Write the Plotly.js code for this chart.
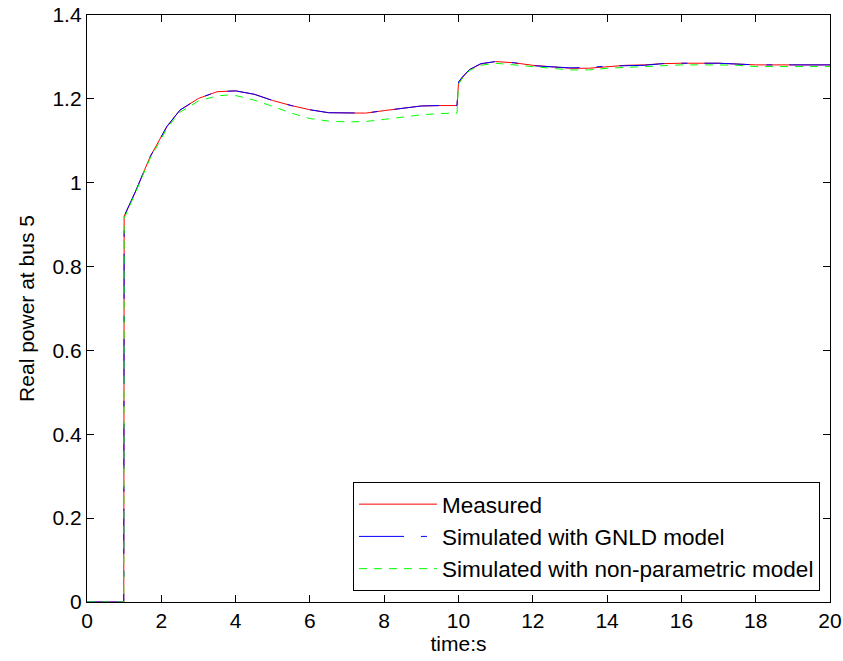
<!DOCTYPE html>
<html>
<head>
<meta charset="utf-8">
<script src="https://cdn.plot.ly/plotly-3.0.1.min.js"></script>
<style>html,body{margin:0;padding:0;background:#fff;}#chart{width:843px;height:661px;}</style>
</head>
<body>
<div id="chart"></div>
<script>
// time (s)
const time = [0, 0.99, 1.0, 1.08, 1.3, 1.5, 1.7, 2.0, 2.15, 2.5, 3.0, 3.5, 3.77, 4.0, 4.5, 5.0, 5.5, 6.0, 6.5, 7.0, 7.5, 8.0, 8.5, 9.0, 9.5, 9.96, 10.0, 10.1, 10.3, 10.6, 11.0, 11.5, 12.0, 12.5, 13.0, 13.5, 14.0, 14.5, 15.0, 15.5, 16.0, 17.0, 17.5, 18.0, 19.0, 20.0];
// Measured
const measured = [0, 0, 0.92, 0.935, 0.978, 1.02, 1.062, 1.11, 1.134, 1.173, 1.201, 1.217, 1.219, 1.219, 1.211, 1.196, 1.184, 1.174, 1.167, 1.166, 1.166, 1.172, 1.178, 1.183, 1.184, 1.184, 1.237, 1.25, 1.27, 1.283, 1.289, 1.286, 1.28, 1.276, 1.273, 1.273, 1.277, 1.28, 1.281, 1.284, 1.285, 1.285, 1.283, 1.281, 1.281, 1.281];
// Simulated with GNLD model
const gnld = [0, 0, 0.92, 0.935, 0.978, 1.02, 1.062, 1.11, 1.134, 1.173, 1.201, 1.217, 1.219, 1.219, 1.211, 1.196, 1.184, 1.174, 1.167, 1.166, 1.166, 1.172, 1.178, 1.183, 1.184, 1.184, 1.24, 1.252, 1.27, 1.284, 1.289, 1.286, 1.279, 1.276, 1.274, 1.275, 1.278, 1.279, 1.28, 1.284, 1.285, 1.285, 1.283, 1.281, 1.281, 1.281];
// Simulated with non-parametric model
const nonParam = [0, 0, 0.915, 0.93, 0.975, 1.017, 1.058, 1.105, 1.13, 1.168, 1.195, 1.207, 1.209, 1.208, 1.197, 1.182, 1.166, 1.153, 1.147, 1.145, 1.146, 1.151, 1.157, 1.162, 1.165, 1.166, 1.235, 1.248, 1.268, 1.28, 1.285, 1.281, 1.276, 1.272, 1.269, 1.269, 1.273, 1.275, 1.277, 1.279, 1.281, 1.281, 1.28, 1.277, 1.277, 1.277];

const xTicks = [0, 2, 4, 6, 8, 10, 12, 14, 16, 18, 20];
const yTicks = [0, 0.2, 0.4, 0.6, 0.8, 1, 1.2, 1.4];
const yTickText = ['0', '0.2', '0.4', '0.6', '0.8', '1', '1.2', '1.4'];

const FONT = 'Liberation Sans, Arial, Helvetica, sans-serif';

const traces = [
  {x: time, y: measured, name: 'Measured', type: 'scatter', mode: 'lines',
   line: {color: '#ff0000', width: 1}},
  {x: time, y: gnld, name: 'Simulated with GNLD model', type: 'scatter', mode: 'lines',
   line: {color: '#0000ff', width: 1, dash: '45px,17px,6px,17px'}},
  {x: time, y: nonParam, name: 'Simulated with non-parametric model', type: 'scatter', mode: 'lines',
   line: {color: '#00ff00', width: 1, dash: '8px,7px'}}
];

const axisCommon = {
  showgrid: false, zeroline: false, showline: true, linecolor: '#000', linewidth: 1.2,
  mirror: 'ticks', ticks: 'inside', ticklen: 7, tickwidth: 1, tickcolor: '#000',
  tickfont: {family: FONT, size: 21, color: '#000'}
};

const layout = {
  width: 843, height: 661,
  margin: {l: 87, r: 13, t: 15, b: 59},
  paper_bgcolor: '#fff', plot_bgcolor: '#fff',
  font: {family: FONT, size: 21, color: '#000'},
  showlegend: true,
  xaxis: Object.assign({}, axisCommon, {
    range: [0, 20], tickvals: xTicks, ticktext: xTicks.map(String),
    title: {text: 'time:s', font: {family: FONT, size: 21, color: '#000'}, standoff: 2}
  }),
  yaxis: Object.assign({}, axisCommon, {
    range: [0, 1.4], tickvals: yTicks, ticktext: yTickText,
    title: {text: 'Real power at bus 5', font: {family: FONT, size: 21, color: '#000'}, standoff: 12}
  }),
  legend: {
    x: 0.9865, y: 0.0187, xanchor: 'right', yanchor: 'bottom',
    bgcolor: '#fff', bordercolor: '#000', borderwidth: 1,
    font: {family: FONT, size: 22.5, color: '#000'},
    itemwidth: 78, tracegroupgap: 0
  }
};

Plotly.newPlot('chart', traces, layout, {displayModeBar: false, staticPlot: true});
</script>
</body>
</html>
